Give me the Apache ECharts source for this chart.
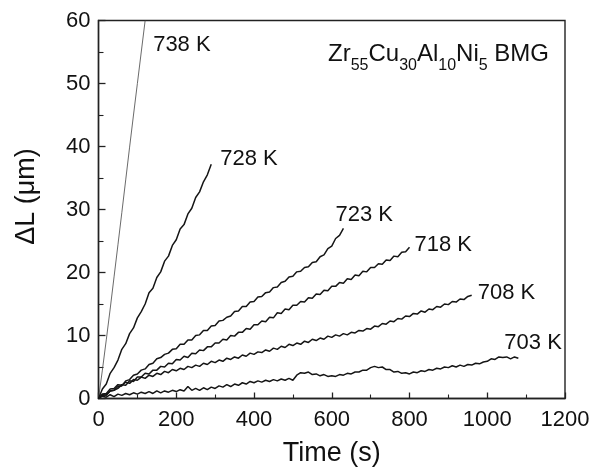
<!DOCTYPE html>
<html>
<head>
<meta charset="utf-8">
<script src="https://cdn.jsdelivr.net/npm/echarts@6/dist/echarts.min.js"></script>
<style>
html,body{margin:0;padding:0;background:#fff;}
#chart{width:606px;height:468px;}
</style>
</head>
<body>
<div id="chart"></div>
<script>
// ---- data (time step 10 s, starting at 0 s) ----
const STEP = 10;
const seriesNames = ['738 K', '728 K', '723 K', '718 K', '708 K', '703 K'];
const dL738 = [0.0, 4.5, 9.3, 14.2, 19.3, 24.4, 29.5, 34.7, 39.9, 45.0, 50.0, 55.0, 60.0];
const dL728 = [0.0, 1.5, 2.3, 4.0, 4.9, 6.1, 7.8, 8.7, 10.3, 11.2, 12.8, 13.8, 15.0, 16.8, 17.5, 19.2, 20.1, 21.8, 22.6, 24.3,
  25.2, 26.9, 27.6, 29.3, 30.2, 31.9, 32.8, 34.4, 35.5, 37.2];
const dL723 = [0.0, 0.5, 0.6, 1.2, 1.3, 1.9, 2.0, 2.8, 3.0, 3.7, 3.9, 4.5, 4.7, 5.4, 5.6, 6.3, 6.5, 7.0, 7.2, 7.8,
  7.9, 8.6, 8.6, 9.3, 9.3, 10.0, 10.1, 10.8, 10.8, 11.5, 11.6, 12.3, 12.4, 12.9, 13.1, 13.8, 13.9, 14.6, 14.6, 15.3,
  15.4, 16.1, 16.2, 16.8, 16.9, 17.6, 17.7, 18.4, 18.6, 19.3, 19.4, 20.1, 20.2, 20.8, 20.9, 21.6, 21.7, 22.5, 22.8, 23.8,
  24.2, 25.4, 25.9, 27.0];
const dL718 = [0.0, 0.6, 0.5, 1.2, 1.3, 1.6, 2.2, 2.1, 2.8, 2.7, 3.4,
  3.4, 4.0, 3.9, 4.5, 4.5, 5.1, 5.0, 5.6, 5.5, 6.2,
  6.1, 6.7, 6.5, 7.2, 7.1, 7.7, 7.6, 8.2, 8.2, 8.8,
  8.8, 9.4, 9.3, 10.0, 9.9, 10.5, 10.5, 11.1, 11.0, 11.7,
  11.7, 12.3, 12.2, 12.9, 12.8, 13.6, 13.5, 14.2, 14.1, 14.8,
  14.8, 15.4, 15.3, 16.0, 15.9, 16.6, 16.5, 17.2, 17.1, 17.8,
  17.8, 18.4, 18.3, 19.0, 18.9, 19.6, 19.5, 20.2, 20.1, 20.8,
  20.8, 21.4, 21.3, 22.0, 21.9, 22.6, 22.5, 23.2, 23.3, 24.0];
const dL708 = [0.0, 0.7, 0.8, 1.5, 1.6, 2.2, 2.1, 2.6, 2.4, 3.0, 2.9,
  3.4, 3.2, 3.7, 3.5, 4.0, 3.8, 4.3, 4.1, 4.6, 4.4,
  4.8, 4.6, 5.1, 4.9, 5.3, 5.1, 5.6, 5.4, 5.9, 5.7,
  6.1, 5.9, 6.4, 6.2, 6.6, 6.4, 6.9, 6.7, 7.2, 7.0,
  7.4, 7.3, 7.7, 7.5, 8.0, 7.8, 8.3, 8.1, 8.6, 8.4,
  8.8, 8.6, 9.1, 8.9, 9.4, 9.2, 9.6, 9.4, 9.9, 9.7,
  10.1, 9.9, 10.3, 10.1, 10.5, 10.4, 10.8, 10.7, 11.1, 11.0,
  11.5, 11.4, 11.9, 11.8, 12.3, 12.2, 12.7, 12.6, 13.1, 13.0,
  13.5, 13.4, 13.9, 13.7, 14.2, 14.1, 14.6, 14.5, 15.0, 14.9,
  15.4, 15.3, 15.8, 15.7, 16.2, 16.4];
const dL703 = [0.0, 0.4, 0.2, 0.6, 0.3, 0.7, 0.5, 0.8, 0.6, 0.9, 0.7,
  1.0, 0.8, 1.1, 0.8, 1.2, 0.9, 1.2, 1.0, 1.3, 1.1,
  1.4, 1.2, 1.9, 1.3, 1.6, 1.3, 1.7, 1.4, 1.8, 1.6,
  2.0, 1.8, 2.2, 1.9, 2.3, 2.1, 2.5, 2.3, 2.7, 2.5,
  2.8, 2.6, 2.9, 2.7, 3.0, 2.8, 3.1, 2.9, 3.2, 2.9,
  3.7, 4.1, 4.0, 4.2, 3.8, 3.9, 3.6, 3.8, 3.5, 3.6,
  3.5, 3.8, 3.7, 4.0, 3.9, 4.2, 4.2, 4.5, 4.5, 4.9,
  5.1, 4.9, 5.0, 4.6, 4.6, 4.2, 4.3, 4.0, 4.1, 3.9,
  4.2, 4.1, 4.4, 4.3, 4.6, 4.5, 4.8, 4.7, 5.0, 4.9,
  5.2, 5.0, 5.3, 5.1, 5.4, 5.3, 5.6, 5.5, 5.8, 5.9,
  6.3, 6.2, 6.6, 6.5, 6.6, 6.3, 6.6, 6.4];
const allValues = [dL738, dL728, dL723, dL718, dL708, dL703];
const xTicks = [0, 200, 400, 600, 800, 1000, 1200];
const yTicks = [0, 10, 20, 30, 40, 50, 60];

// ---- chart ----
const FONT = '"Liberation Sans", Arial, Helvetica, sans-serif';
const chart = echarts.init(document.getElementById('chart'), null, {renderer: 'canvas'});

function toPairs(arr) { return arr.map((v, i) => [i * STEP, v]); }

// label offsets (px) from the last point of each curve
const labelOffsets = [[8, 24.5], [9, -5], [-8, -13], [5, -2], [6, -2], [-14, -15]];

const option = {
  animation: false,
  backgroundColor: '#fff',
  grid: {left: 98.5, right: 41, top: 20.5, bottom: 69.5, outerBoundsMode: 'none', containLabel: false,
    show: true, borderColor: '#222', borderWidth: 1.4, backgroundColor: 'transparent'},
  xAxis: {
    type: 'value', min: xTicks[0], max: xTicks[xTicks.length - 1], interval: xTicks[1] - xTicks[0],
    name: 'Time (s)', nameLocation: 'middle', nameGap: 42,
    nameTextStyle: {fontFamily: FONT, fontSize: 27, color: '#111'},
    axisLine: {lineStyle: {color: '#222', width: 1.4}},
    axisTick: {inside: true, length: 6, lineStyle: {color: '#222', width: 1.3}},
    minorTick: {show: true, splitNumber: 2, length: 4, lineStyle: {color: '#222', width: 1.1}},
    splitLine: {show: false},
    axisLabel: {fontFamily: FONT, fontSize: 22, color: '#111', margin: 10, formatter: v => String(v)}
  },
  yAxis: {
    type: 'value', min: yTicks[0], max: yTicks[yTicks.length - 1], interval: yTicks[1] - yTicks[0],
    name: 'ΔL (μm)', nameLocation: 'middle', nameGap: 58, nameRotate: 90,
    nameTextStyle: {fontFamily: FONT, fontSize: 27, color: '#111', padding: [0, 0, 0, 26]},
    axisLine: {lineStyle: {color: '#222', width: 1.4}},
    axisTick: {inside: true, length: 7, lineStyle: {color: '#222', width: 1.3}},
    minorTick: {show: true, splitNumber: 2, length: 5, lineStyle: {color: '#222', width: 1.1}},
    splitLine: {show: false},
    axisLabel: {fontFamily: FONT, fontSize: 22, color: '#111', margin: 8, formatter: v => String(v)}
  },
  series: allValues.map((vals, k) => ({
    type: 'line',
    name: seriesNames[k],
    data: toPairs(vals),
    showSymbol: false,
    symbol: 'none',
    clip: true,
    lineStyle: {color: k === 0 ? '#444' : '#151515', width: k === 0 ? 0.8 : 1.5},
    z: 3
  })),
  graphic: []
};
chart.setOption(option);

const gfx = [];
allValues.forEach((vals, k) => {
  const last = [(vals.length - 1) * STEP, vals[vals.length - 1]];
  const p = chart.convertToPixel({seriesIndex: k}, last);
  gfx.push({
    type: 'text',
    x: p[0] + labelOffsets[k][0],
    y: p[1] + labelOffsets[k][1],
    style: {text: seriesNames[k], fontFamily: FONT, fontSize: 22, fill: '#111', align: 'left', verticalAlign: 'middle'},
    z: 10
  });
});
gfx.push({
  type: 'text',
  x: 328, y: 42,
  style: {
    text: '{m|Zr}{s|55}{m|Cu}{s|30}{m|Al}{s|10}{m|Ni}{s|5}{m| BMG}',
    fontFamily: FONT, fill: '#111', align: 'left', verticalAlign: 'top',
    rich: {
      m: {fontFamily: FONT, fontSize: 24, verticalAlign: 'top', fill: '#111'},
      s: {fontFamily: FONT, fontSize: 16, padding: [16, 0, 0, 0], verticalAlign: 'bottom', fill: '#111'}
    }
  },
  z: 10
});
chart.setOption({graphic: gfx});
</script>
</body>
</html>
